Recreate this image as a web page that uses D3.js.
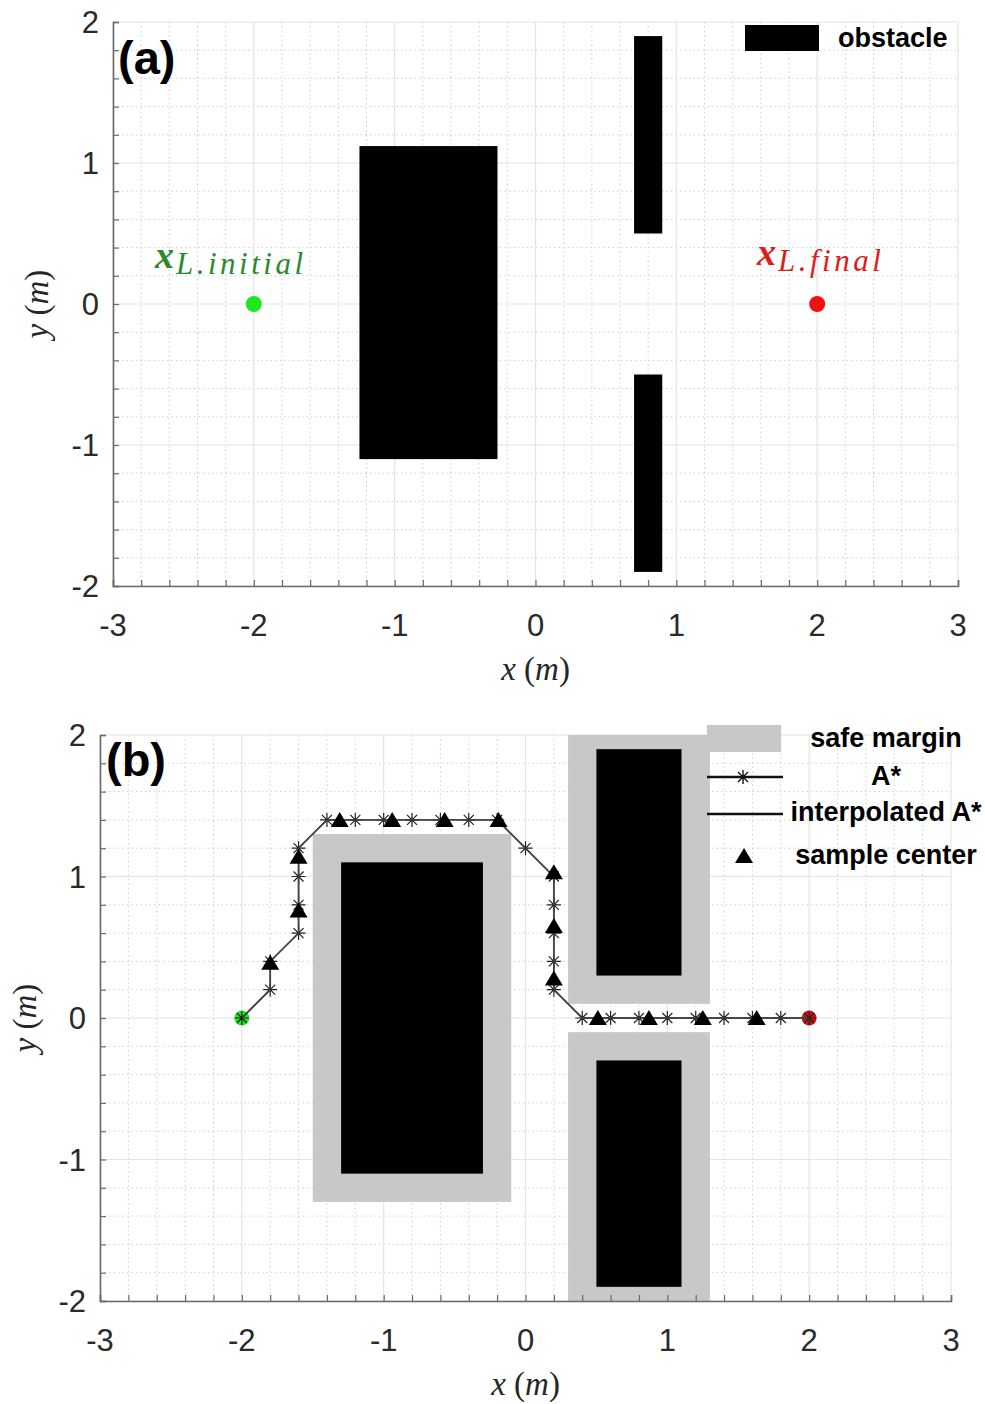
<!DOCTYPE html>
<html>
<head>
<meta charset="utf-8">
<script src="https://cdn.jsdelivr.net/npm/d3@7"></script>
<style>
  body { margin: 0; background: #fff; }
  .tick-label { font-family: "Liberation Sans", Arial, sans-serif; font-size: 31px; fill: #2a2a2a; }
  .ax-label { font-family: "Liberation Serif", "DejaVu Serif", serif; font-style: italic; font-size: 33px; fill: #262626; }
  .leg { font-family: "Liberation Sans", Arial, sans-serif; font-weight: bold; font-size: 27px; fill: #000; }
  .panel { font-family: "Liberation Sans", Arial, sans-serif; font-weight: bold; font-size: 47px; fill: #000; }
</style>
</head>
<body>
<script>
// ticks
const xTicks = [-3, -2, -1, 0, 1, 2, 3];
const yTicks = [-2, -1, 0, 1, 2];
const minorStep = 0.2;

// start / goal
const startPt = [-2, 0];
const goalPt = [2, 0];

// (a) obstacles [x0, x1, y0, y1]
const obstaclesA = [
  [-1.25, -0.27, -1.1, 1.12],
  [0.7, 0.9, 0.5, 1.9],
  [0.7, 0.9, -1.9, -0.5]
];

// (b) obstacles and safe margins [x0, x1, y0, y1]
const obstaclesB = [
  [-1.3, -0.3, -1.1, 1.1],
  [0.5, 1.1, 0.3, 1.9],
  [0.5, 1.1, -1.9, -0.3]
];
const marginsB = [
  [-1.5, -0.1, -1.3, 1.3],
  [0.3, 1.3, 0.1, 2.1],
  [0.3, 1.3, -2.1, -0.1]
];

// A* nodes
const aStarX = [-2, -1.8, -1.8, -1.6, -1.6, -1.6, -1.6, -1.4, -1.2, -1.0, -0.8, -0.6, -0.4, -0.2, 0, 0.2, 0.2, 0.2, 0.2, 0.2, 0.4, 0.6, 0.8, 1.0, 1.2, 1.4, 1.6, 1.8, 2];
const aStarY = [0, 0.2, 0.4, 0.6, 0.8, 1.0, 1.2, 1.4, 1.4, 1.4, 1.4, 1.4, 1.4, 1.4, 1.2, 1.0, 0.8, 0.6, 0.4, 0.2, 0, 0, 0, 0, 0, 0, 0, 0, 0];

// sample centers
const sampleX = [-1.8, -1.6, -1.6, -1.31, -0.94, -0.57, -0.19, 0.2, 0.2, 0.2, 0.51, 0.87, 1.25, 1.63];
const sampleY = [0.39, 0.76, 1.14, 1.4, 1.4, 1.4, 1.4, 1.03, 0.65, 0.28, 0, 0, 0, 0];

const width = 985, height = 1404;
const svg = d3.select("body").append("svg").attr("width", width).attr("height", height);

const starPath = "M-7,0L7,0M0,-7L0,7M-5,-5L5,5M-5,5L5,-5";
const triPath = "M0,-8L9,7L-9,7Z";

/** 軸・グリッドを描く。スケールを返す */
function drawAxes(box, id) {
  const x = d3.scaleLinear().domain([-3, 3]).range([box.left, box.right]);
  const y = d3.scaleLinear().domain([-2, 2]).range([box.bottom, box.top]);
  const g = svg.append("g");

  const minorX = d3.range(-3, 3.001, minorStep).filter(v => Math.abs(v - Math.round(v)) > 1e-6);
  const minorY = d3.range(-2, 2.001, minorStep).filter(v => Math.abs(v - Math.round(v)) > 1e-6);

  // minor grid (dotted)
  g.selectAll(".mgx").data(minorX).enter().append("line")
    .attr("x1", d => x(d)).attr("x2", d => x(d)).attr("y1", box.top).attr("y2", box.bottom)
    .attr("stroke", "#cfcfcf").attr("stroke-width", 1).attr("stroke-dasharray", "1.5,3");
  g.selectAll(".mgy").data(minorY).enter().append("line")
    .attr("y1", d => y(d)).attr("y2", d => y(d)).attr("x1", box.left).attr("x2", box.right)
    .attr("stroke", "#cfcfcf").attr("stroke-width", 1).attr("stroke-dasharray", "1.5,3");
  // major grid
  g.selectAll(".gx").data(xTicks).enter().append("line")
    .attr("x1", d => x(d)).attr("x2", d => x(d)).attr("y1", box.top).attr("y2", box.bottom)
    .attr("stroke", "#e4e4e4").attr("stroke-width", 1.2);
  g.selectAll(".gy").data(yTicks).enter().append("line")
    .attr("y1", d => y(d)).attr("y2", d => y(d)).attr("x1", box.left).attr("x2", box.right)
    .attr("stroke", "#e4e4e4").attr("stroke-width", 1.2);

  svg.append("clipPath").attr("id", id).append("rect")
    .attr("x", box.left).attr("y", box.top)
    .attr("width", box.right - box.left).attr("height", box.bottom - box.top);

  return { x, y, g };
}

/** 軸線・目盛・ラベル (前面) */
function drawFrame(box, s, lab) {
  const { x, y } = s;
  const g = svg.append("g");
  const axc = "#6a6a6a";
  const axisX = d3.axisBottom(x).tickValues(d3.range(-3, 3.001, minorStep)).tickSize(-6).tickFormat("");
  const axisY = d3.axisLeft(y).tickValues(d3.range(-2, 2.001, minorStep)).tickSize(-6).tickFormat("");
  const gx = g.append("g").attr("transform", "translate(0," + box.bottom + ")").call(axisX);
  const gy = g.append("g").attr("transform", "translate(" + box.left + ",0)").call(axisY);
  [gx, gy].forEach(a => {
    a.select(".domain").attr("stroke", axc).attr("stroke-width", 1.6);
    a.selectAll(".tick line").attr("stroke", axc).attr("stroke-width", 1.2);
  });

  g.selectAll(".xl").data(xTicks).enter().append("text")
    .attr("class", "tick-label").attr("text-anchor", "middle")
    .attr("x", d => x(d)).attr("y", box.bottom + 50)
    .text(d => d);
  g.selectAll(".yl").data(yTicks).enter().append("text")
    .attr("class", "tick-label").attr("text-anchor", "end")
    .attr("x", box.left - 14).attr("y", d => y(d) + 11)
    .text(d => d);

  const xl = g.append("text").attr("class", "ax-label").attr("text-anchor", "middle")
    .attr("x", (box.left + box.right) / 2).attr("y", box.bottom + 94);
  xl.append("tspan").text("x");
  xl.append("tspan").attr("font-style", "normal").text(" (");
  xl.append("tspan").text("m");
  xl.append("tspan").attr("font-style", "normal").text(")");

  const yl = g.append("text").attr("class", "ax-label").attr("text-anchor", "middle")
    .attr("transform", "translate(" + lab.yx + "," + ((box.top + box.bottom) / 2) + ") rotate(-90)");
  yl.append("tspan").text("y");
  yl.append("tspan").attr("font-style", "normal").text(" (");
  yl.append("tspan").text("m");
  yl.append("tspan").attr("font-style", "normal").text(")");

  g.append("text").attr("class", "panel").attr("x", lab.px).attr("y", lab.py).text(lab.name);
}

function rects(g, data, fill, s) {
  g.selectAll(null).data(data).enter().append("rect")
    .attr("x", d => s.x(d[0])).attr("y", d => s.y(d[3]))
    .attr("width", d => s.x(d[1]) - s.x(d[0]))
    .attr("height", d => s.y(d[2]) - s.y(d[3]))
    .attr("fill", fill);
}

function subLabel(txt, sub, px, py, color) {
  const t = svg.append("text").attr("x", px).attr("y", py).attr("fill", color)
    .attr("font-family", "Liberation Serif, DejaVu Serif, serif").attr("font-style", "italic");
  t.append("tspan").attr("font-weight", "bold").attr("font-size", 38).text(txt);
  t.append("tspan").attr("font-size", 31).attr("letter-spacing", 3.5).attr("dx", 2).attr("dy", 6).text(sub);
}

// ---------------- (a) ----------------
const boxA = { left: 113, right: 958, top: 22, bottom: 586 };
const sA = drawAxes(boxA, "clipA");
const plotA = svg.append("g").attr("clip-path", "url(#clipA)");
rects(plotA, obstaclesA, "#000", sA);

plotA.append("circle").attr("cx", sA.x(startPt[0])).attr("cy", sA.y(startPt[1])).attr("r", 8).attr("fill", "#1ee81e");
plotA.append("circle").attr("cx", sA.x(goalPt[0])).attr("cy", sA.y(goalPt[1])).attr("r", 8).attr("fill", "#f01010");

subLabel("x", "L.initial", 155, 268, "#2b8a2b");
subLabel("x", "L.final", 757, 265, "#e01b1b");

// legend (a)
svg.append("rect").attr("x", 745).attr("y", 25).attr("width", 74).attr("height", 26).attr("fill", "#000");
svg.append("text").attr("class", "leg").attr("x", 838).attr("y", 47).text("obstacle");

drawFrame(boxA, sA, { yx: 48, px: 118, py: 74, name: "(a)" });

// ---------------- (b) ----------------
const boxB = { left: 100, right: 951, top: 735, bottom: 1301 };
const sB = drawAxes(boxB, "clipB");
const plotB = svg.append("g").attr("clip-path", "url(#clipB)");
rects(plotB, marginsB, "#c8c8c8", sB);
rects(plotB, obstaclesB, "#000", sB);

const nodes = aStarX.map((d, i) => [d, aStarY[i]]);
const samples = sampleX.map((d, i) => [d, sampleY[i]]);
const line = d3.line().x(d => sB.x(d[0])).y(d => sB.y(d[1]));

plotB.append("circle").attr("cx", sB.x(startPt[0])).attr("cy", sB.y(startPt[1])).attr("r", 7.5).attr("fill", "#1ee81e");
plotB.append("circle").attr("cx", sB.x(goalPt[0])).attr("cy", sB.y(goalPt[1])).attr("r", 7.5).attr("fill", "#d01010");

// A*
plotB.append("path").datum(nodes).attr("d", line)
  .attr("fill", "none").attr("stroke", "#555").attr("stroke-width", 1.8);
plotB.selectAll(".star").data(nodes).enter().append("path")
  .attr("transform", d => "translate(" + sB.x(d[0]) + "," + sB.y(d[1]) + ")")
  .attr("d", starPath).attr("stroke", "#222").attr("stroke-width", 1.2).attr("fill", "none");
// interpolated A*
plotB.append("path").datum(nodes).attr("d", line)
  .attr("fill", "none").attr("stroke", "#444").attr("stroke-width", 1.3);
// sample centers
plotB.selectAll(".tri").data(samples).enter().append("path")
  .attr("transform", d => "translate(" + sB.x(d[0]) + "," + sB.y(d[1]) + ")")
  .attr("d", triPath).attr("fill", "#000");

// legend (b)
const legB = svg.append("g");
legB.append("rect").attr("x", 707).attr("y", 725).attr("width", 74).attr("height", 27).attr("fill", "#c8c8c8");
legB.append("line").attr("x1", 707).attr("x2", 783).attr("y1", 777).attr("y2", 777).attr("stroke", "#111").attr("stroke-width", 2.5);
legB.append("path").attr("transform", "translate(743,777)").attr("d", starPath).attr("stroke", "#111").attr("stroke-width", 1.4).attr("fill", "none");
legB.append("line").attr("x1", 707).attr("x2", 783).attr("y1", 814).attr("y2", 814).attr("stroke", "#111").attr("stroke-width", 2.5);
legB.append("path").attr("transform", "translate(744,856)").attr("d", triPath).attr("fill", "#000");
const legText = ["safe margin", "A*", "interpolated A*", "sample center"];
const legY = [747, 785, 821, 864];
legB.selectAll(".lt").data(legText).enter().append("text")
  .attr("class", "leg").attr("text-anchor", "middle")
  .attr("x", 886).attr("y", (d, i) => legY[i]).text(d => d);

drawFrame(boxB, sB, { yx: 36, px: 106, py: 776, name: "(b)" });
</script>
</body>
</html>
